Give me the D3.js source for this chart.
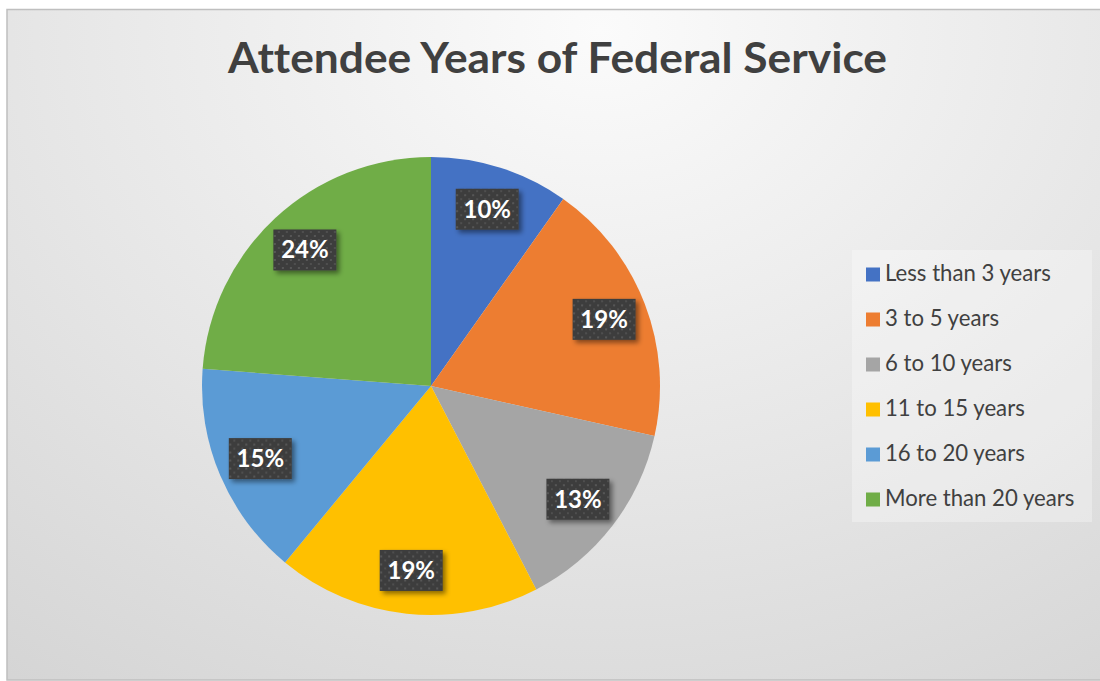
<!DOCTYPE html>
<html>
<head>
<meta charset="utf-8">
<script src="https://d3js.org/d3.v7.min.js"></script>
<style>
  body { margin: 0; background: #fff; }
  svg { display: block; }
  text { font-family: Lato, "Open Sans", sans-serif; font-variant-ligatures: none; }
</style>
</head>
<body>
<div id="chart"></div>
<script>
var categories = ["Less than 3 years", "3 to 5 years", "6 to 10 years", "11 to 15 years", "16 to 20 years", "More than 20 years"];
// wedge sizes (percent)
var shares = [9.8, 18.7, 13.9, 18.6, 15.2, 23.8];
// data labels as printed on the chart
var labels = ["10%", "19%", "13%", "19%", "15%", "24%"];
var colors = ["#4472C4", "#ED7D31", "#A5A5A5", "#FFC000", "#5B9BD5", "#70AD47"];
var title = "Attendee Years of Federal Service";

var W = 1100, H = 681;
var cx = 431, cy = 386, R = 229;

var svg = d3.select("#chart").append("svg")
    .attr("width", W)
    .attr("height", H);

var defs = svg.append("defs");

// chart area background, light at the top, grey towards the bottom
var bg = defs.append("radialGradient")
    .attr("id", "bg")
    .attr("gradientUnits", "userSpaceOnUse")
    .attr("cx", 600).attr("cy", 30).attr("r", 820)
    .attr("gradientTransform", "translate(600,30) scale(1.25,1) translate(-600,-30)");
bg.append("stop").attr("offset", "0").attr("stop-color", "#fbfbfb");
bg.append("stop").attr("offset", "0.55").attr("stop-color", "#e6e6e6");
bg.append("stop").attr("offset", "1").attr("stop-color", "#d4d4d4");

// dotted fill for the data label boxes
var pat = defs.append("pattern")
    .attr("id", "dots")
    .attr("patternUnits", "userSpaceOnUse")
    .attr("width", 8).attr("height", 8);
pat.append("rect").attr("width", 8).attr("height", 8).attr("fill", "#3d3d3d");
pat.append("rect").attr("x", 1).attr("y", 1).attr("width", 2).attr("height", 2).attr("fill", "#575757");
pat.append("rect").attr("x", 5).attr("y", 5).attr("width", 2).attr("height", 2).attr("fill", "#4f4f4f");

var shadow = defs.append("filter")
    .attr("id", "shadow")
    .attr("x", "-30%").attr("y", "-30%")
    .attr("width", "160%").attr("height", "160%");
shadow.append("feDropShadow")
    .attr("dx", 3).attr("dy", 3)
    .attr("stdDeviation", 2.5)
    .attr("flood-color", "#000")
    .attr("flood-opacity", 0.45);

svg.append("rect")
    .attr("x", 7).attr("y", 9.5)
    .attr("width", W).attr("height", 670.5)
    .attr("fill", "url(#bg)")
    .attr("stroke", "#bfbfbf")
    .attr("stroke-width", 1.5);

// title, squeezed to the narrow width of the original face
svg.append("text")
    .attr("x", 228)
    .attr("y", 73)
    .attr("font-size", 42)
    .attr("font-weight", "bold")
    .attr("fill", "#404040")
    .attr("textLength", 659)
    .attr("lengthAdjust", "spacingAndGlyphs")
    .text(title);

// pie
var pie = d3.pie().sort(null).value(function (d) { return d; });
var arcs = pie(shares);
var arc = d3.arc().innerRadius(0).outerRadius(R);
var labelArc = d3.arc().innerRadius(R * 0.81).outerRadius(R * 0.81);

var g = svg.append("g").attr("transform", "translate(" + cx + "," + cy + ")");

g.selectAll("path.slice")
    .data(arcs)
    .enter()
    .append("path")
    .attr("class", "slice")
    .attr("d", arc)
    .attr("fill", function (d, i) { return colors[i]; });

var lab = g.selectAll("g.lab")
    .data(arcs)
    .enter()
    .append("g")
    .attr("class", "lab")
    .attr("transform", function (d) {
        var c = labelArc.centroid(d);
        return "translate(" + c[0] + "," + c[1] + ")";
    });

lab.append("rect")
    .attr("x", -31.5).attr("y", -20.5)
    .attr("width", 63).attr("height", 41)
    .attr("fill", "url(#dots)")
    .attr("filter", "url(#shadow)");

lab.append("text")
    .attr("text-anchor", "middle")
    .attr("y", 8.5)
    .attr("font-size", 24)
    .attr("font-weight", "bold")
    .attr("fill", "#fff")
    .text(function (d, i) { return labels[i]; });

// legend
var legend = svg.append("g");
legend.append("rect")
    .attr("x", 852).attr("y", 250)
    .attr("width", 240).attr("height", 272)
    .attr("fill", "#fff")
    .attr("fill-opacity", 0.3);

var y = d3.scalePoint()
    .domain(categories)
    .range([274.5, 499.5]);

var item = legend.selectAll("g.item")
    .data(categories)
    .enter()
    .append("g")
    .attr("class", "item")
    .attr("transform", function (d) { return "translate(866," + y(d) + ")"; });

item.append("rect")
    .attr("x", 0).attr("y", -7)
    .attr("width", 14).attr("height", 14)
    .attr("fill", function (d, i) { return colors[i]; });

var txt = item.append("text")
    .attr("x", 19)
    .attr("y", 6.5)
    .attr("font-size", 18)
    .attr("fill", "#404040")
    .text(function (d) { return d; });

// fit the legend face to the original width of the first entry
var len = txt.node().getComputedTextLength();
if (len > 0) txt.attr("font-size", 18 * 166 / len);
</script>
</body>
</html>
